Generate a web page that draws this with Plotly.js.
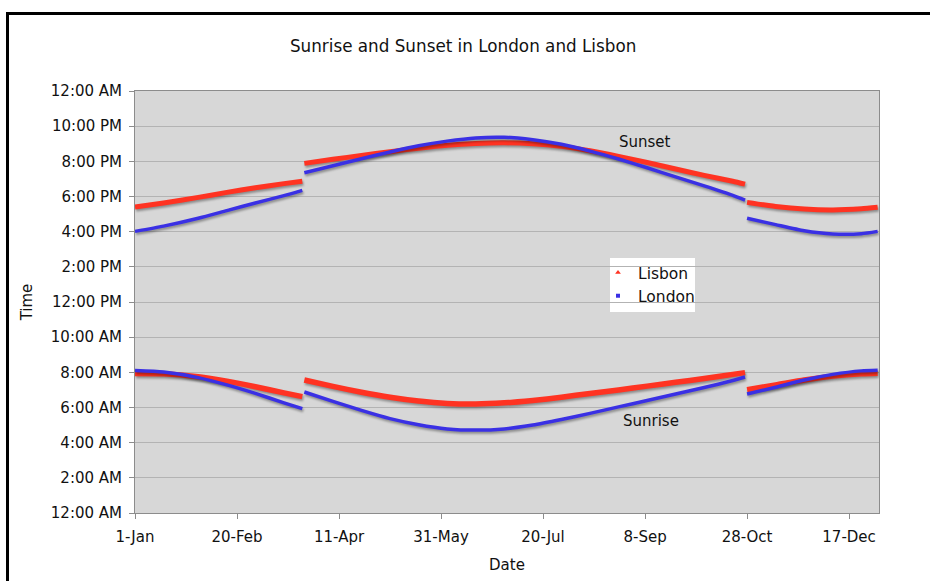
<!DOCTYPE html>
<html>
<head>
<meta charset="utf-8">
<script src="https://cdn.plot.ly/plotly-3.0.1.min.js"></script>
<style>
  html, body { margin: 0; padding: 0; background: #fff; overflow: hidden; }
  #chart { width: 930px; height: 581px; position: absolute; left: 0; top: 0; }
  #frame { position: absolute; left: 6px; top: 12px; width: 1000px; height: 700px;
           border-left: 3px solid #000; border-top: 3px solid #000; pointer-events: none; z-index: 5; }
  .scatterlayer .js-line { filter: drop-shadow(1px 2px 1px rgba(0,0,0,0.35)); }
</style>
</head>
<body>
<div id="chart"></div>
<div id="frame"></div>
<script>
// Sample dates (2007). The "12:00" rows mark the clock changes (no line drawn across them).
const dates = [
  "2007-01-01","2007-01-15","2007-02-01","2007-02-15","2007-03-01","2007-03-15","2007-03-24",
  "2007-03-24 12:00",
  "2007-03-25","2007-04-08","2007-04-22","2007-05-06","2007-05-20","2007-06-03","2007-06-17",
  "2007-07-01","2007-07-15","2007-07-29","2007-08-12","2007-08-26","2007-09-09","2007-09-23",
  "2007-10-07","2007-10-21","2007-10-27",
  "2007-10-27 12:00",
  "2007-10-28","2007-11-11","2007-11-25","2007-12-09","2007-12-23","2007-12-31"
];

const londonSunrise = [
  "8:06","8:01","7:42","7:17","6:48","6:16","5:56",
  null,
  "6:53","6:21","5:50","5:22","5:01","4:47","4:43",
  "4:47","5:00","5:19","5:40","6:02","6:24","6:46",
  "7:08","7:32","7:44",
  null,
  "6:46","7:09","7:34","7:53","8:05","8:07"
];
const lisbonSunrise = [
  "7:56","7:55","7:45","7:30","7:11","6:50","6:37",
  null,
  "7:34","7:12","6:52","6:35","6:22","6:14","6:12",
  "6:16","6:24","6:35","6:48","7:00","7:13","7:26",
  "7:39","7:53","7:59",
  null,
  "7:01","7:17","7:34","7:47","7:55","7:57"
];
const londonSunset = [
  "16:01","16:19","16:46","17:12","17:38","18:03","18:21",
  null,
  "19:21","19:45","20:09","20:32","20:53","21:09","21:20",
  "21:22","21:14","20:58","20:35","20:08","19:38","19:07",
  "18:36","18:04","17:48",
  null,
  "16:46","16:24","16:03","15:52","15:53","16:01"
];
const lisbonSunset = [
  "17:24","17:38","17:57","18:14","18:30","18:44","18:52",
  null,
  "19:53","20:07","20:20","20:33","20:45","20:55","21:01",
  "21:03","21:00","20:51","20:36","20:17","19:56","19:34",
  "19:12","18:52","18:42",
  null,
  "17:40","17:26","17:17","17:14","17:18","17:23"
];

const yTickVals = [0,2,4,6,8,10,12,14,16,18,20,22,24];
const yTickText = ["12:00 AM","2:00 AM","4:00 AM","6:00 AM","8:00 AM","10:00 AM","12:00 PM",
                   "2:00 PM","4:00 PM","6:00 PM","8:00 PM","10:00 PM","12:00 AM"];
const xTickVals = ["2007-01-01","2007-02-20","2007-04-11","2007-05-31","2007-07-20","2007-09-08","2007-10-28","2007-12-17"];

function toHours(arr) {
  return arr.map(s => {
    if (s === null) return null;
    const [h, m] = s.split(":").map(Number);
    return h + m / 60;
  });
}

const RED = "#ff3322";
const BLUE = "#3a30e4";
const FONT = "DejaVu Sans, Verdana, sans-serif";
const TXT = "#111";

function lineTrace(y, color, width) {
  return { x: dates, y: toHours(y), mode: "lines", type: "scatter",
           line: { color: color, width: width, shape: "spline", smoothing: 0.6 },
           connectgaps: false, showlegend: false, hoverinfo: "skip" };
}

const traces = [
  lineTrace(lisbonSunset, RED, 5),
  lineTrace(lisbonSunrise, RED, 5.5),
  lineTrace(londonSunset, BLUE, 3.5),
  lineTrace(londonSunrise, BLUE, 3.5),
  { x: [null], y: [null], type: "scatter", mode: "markers", name: "Lisbon",
    marker: { symbol: "triangle-up", size: 5, color: RED } },
  { x: [null], y: [null], type: "scatter", mode: "markers", name: "London",
    marker: { symbol: "square", size: 4, color: BLUE } }
];

const layout = {
  width: 930, height: 581,
  margin: { l: 135, r: 51, t: 91, b: 68 },
  paper_bgcolor: "#ffffff",
  plot_bgcolor: "#d7d7d7",
  font: { family: FONT, size: 15, color: TXT },
  title: { text: "Sunrise and Sunset in London and Lisbon", x: 0.498, xref: "container", xanchor: "center",
           y: 0.93, yref: "container", font: { family: FONT, size: 16.8, color: TXT } },
  xaxis: {
    type: "date",
    range: ["2007-01-01", "2007-12-31 16:00"],
    tickvals: xTickVals, tickformat: "%-d-%b",
    showgrid: false, zeroline: false,
    showline: true, linecolor: "#8c8c8c", linewidth: 1, mirror: true,
    ticks: "outside", ticklen: 5, tickcolor: "#8c8c8c",
    ticklabelstandoff: 5,
    tickfont: { family: FONT, size: 15, color: TXT },
    title: { text: "Date", font: { family: FONT, size: 15, color: TXT }, standoff: 14 }
  },
  yaxis: {
    range: [0, 24],
    tickvals: yTickVals, ticktext: yTickText,
    showgrid: true, gridcolor: "#b3b3b3", gridwidth: 1, zeroline: false,
    showline: true, linecolor: "#8c8c8c", linewidth: 1, mirror: true,
    ticks: "outside", ticklen: 5, tickcolor: "#8c8c8c",
    ticklabelstandoff: 4,
    tickfont: { family: FONT, size: 15, color: TXT },
    title: { text: "Time", font: { family: FONT, size: 15, color: TXT }, standoff: 14 }
  },
  legend: {
    x: (598 - 135) / 744, y: 0.609, xanchor: "left", yanchor: "top",
    bgcolor: "rgba(255,255,255,0)", borderwidth: 0,
    font: { family: FONT, size: 15.5, color: TXT },
    itemwidth: 30, tracegroupgap: 0
  },
  shapes: [
    { type: "rect", xref: "paper", yref: "paper", layer: "below",
      x0: (610 - 135) / 744, x1: (695 - 135) / 744, y0: (513 - 312) / 422, y1: (513 - 258) / 422,
      fillcolor: "#ffffff", line: { width: 0 } }
  ],
  annotations: [
    { x: "2007-09-08", y: 21.1, xref: "x", yref: "y", text: "Sunset", showarrow: false,
      font: { family: FONT, size: 15, color: TXT } },
    { x: "2007-09-11", y: 5.25, xref: "x", yref: "y", text: "Sunrise", showarrow: false,
      font: { family: FONT, size: 15, color: TXT } }
  ]
};

Plotly.newPlot("chart", traces, layout, { staticPlot: true, displayModeBar: false });
</script>
</body>
</html>
